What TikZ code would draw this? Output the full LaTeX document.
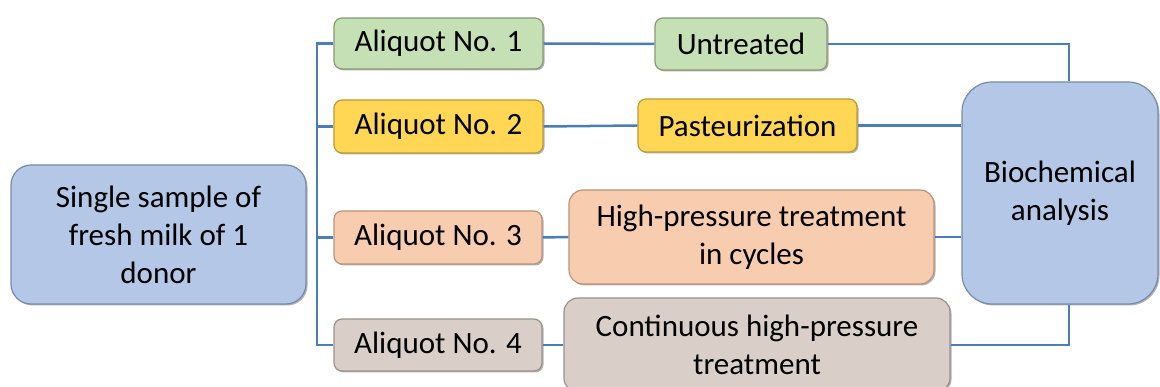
\documentclass[tikz,border=0pt]{standalone}
\usepackage{fontspec}
\setmainfont{Carlito}
\usetikzlibrary{shadows}
\definecolor{gfill}{RGB}{197,224,180}
\definecolor{gdraw}{RGB}{135,155,115}
\definecolor{yfill}{RGB}{255,215,85}
\definecolor{ydraw}{RGB}{185,155,55}
\definecolor{pfill}{RGB}{248,204,174}
\definecolor{pdraw}{RGB}{185,148,122}
\definecolor{bfill}{RGB}{218,207,200}
\definecolor{bdraw}{RGB}{155,145,140}
\definecolor{lfill}{RGB}{180,199,231}
\definecolor{ldraw}{RGB}{118,138,172}
\definecolor{conn}{RGB}{74,126,187}
\begin{document}
\begin{tikzpicture}[x=1pt,y=-1pt,
  box/.style={rectangle, rounded corners=8pt, line width=1.2pt, align=center,
    inner sep=0pt, font=\fontsize{31}{38}\selectfont, text=black,
    drop shadow={shadow xshift=1.5pt, shadow yshift=-1.5pt, opacity=0.3, fill=black}},
  greenbox/.style={box, fill=gfill, draw=gdraw},
  yellowbox/.style={box, fill=yfill, draw=ydraw},
  peachbox/.style={box, fill=pfill, draw=pdraw},
  greybox/.style={box, fill=bfill, draw=bdraw},
  bluebox/.style={box, fill=lfill, draw=ldraw},
  link/.style={draw=conn, line width=2.5pt}]
\useasboundingbox (0,0) rectangle (1160,387);
\node[bluebox, rounded corners=20pt, minimum width=295pt, minimum height=139pt] (src) at (158.5,234.5) {Single sample of\\fresh milk of 1\\donor};
\node[greenbox, minimum width=209pt, minimum height=51pt] (a1) at (438.5,43.5) {Aliquot No. 1};
\node[yellowbox, minimum width=209pt, minimum height=53pt] (a2) at (438.5,126.5) {Aliquot No. 2};
\node[peachbox, minimum width=208pt, minimum height=53pt] (a3) at (438,237.5) {Aliquot No. 3};
\node[greybox, minimum width=208pt, minimum height=52pt] (a4) at (438,345) {Aliquot No. 4};
\node[greenbox, minimum width=172pt, minimum height=52pt] (un) at (741,44) {Untreated};
\node[yellowbox, minimum width=219pt, minimum height=53pt] (pa) at (747.5,125.5) {Pasteurization};
\node[peachbox, rounded corners=14pt, minimum width=365pt, minimum height=94pt] (hp) at (751.5,237) {High-pressure treatment\\in cycles};
\node[greybox, rounded corners=14pt, minimum width=386pt, minimum height=94pt] (co) at (757,345) {Continuous high-pressure\\treatment};
\node[bluebox, rounded corners=30pt, minimum width=196pt, minimum height=222pt] (bio) at (1060,193) {Biochemical\\analysis};
\coordinate (tk) at (317,0);
\coordinate (jn) at (1069,0);
\draw[link] (a1.west) -- (tk |- a1.west) -- (tk |- a4.west) -- (a4.west);
\draw[link] (a2.west) -- (tk |- a2.west);
\draw[link] (a3.west) -- (tk |- a3.west);
\draw[link] (a1.east) -- (un.west);
\draw[link] (a2.east) -- (pa.west);
\draw[link] (a3.east) -- (hp.west);
\draw[link] (a4.east) -- (a4.east -| co.west);
\draw[link] (un.east) -- (jn |- un.east) -- (jn |- bio.north);
\draw[link] (pa.east) -- (pa.east -| bio.west);
\draw[link] (hp.east) -- (hp.east -| bio.west);
\draw[link] (a4.east -| co.east) -- (jn |- a4.east) -- (jn |- bio.south);
\end{tikzpicture}
\end{document}
